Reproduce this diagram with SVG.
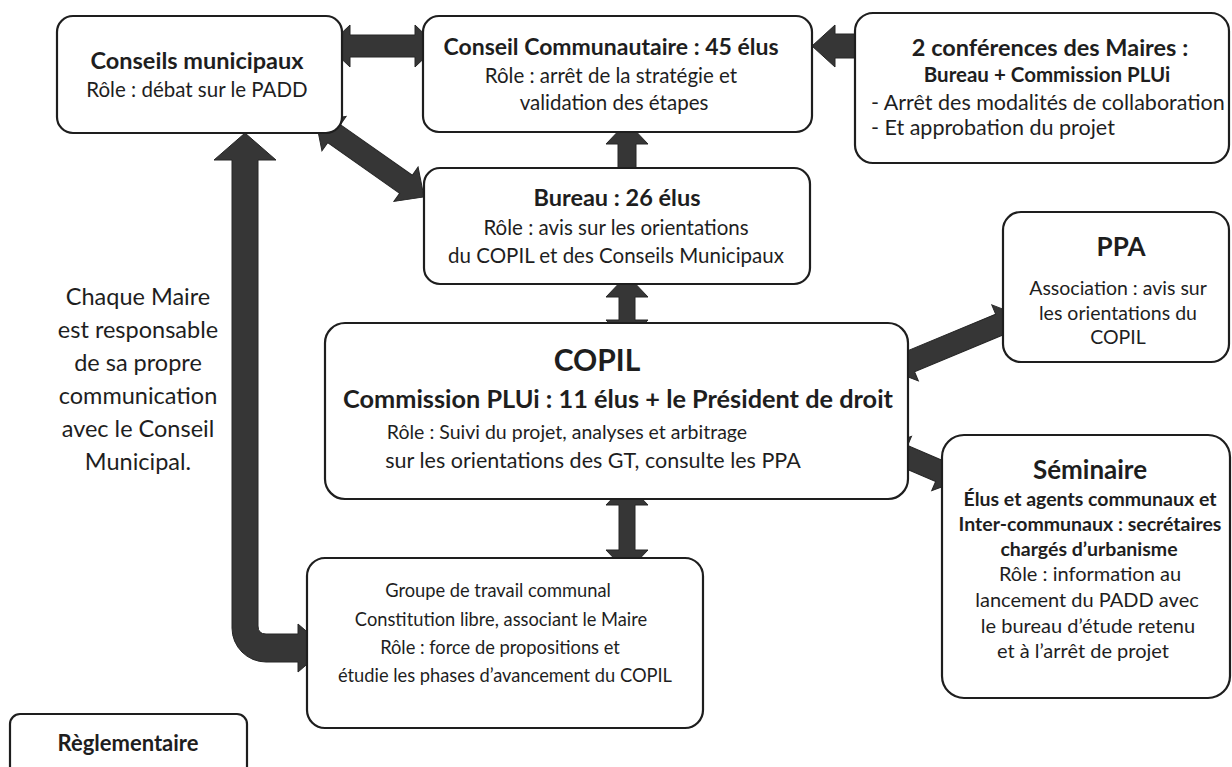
<svg xmlns="http://www.w3.org/2000/svg" width="1232" height="767" viewBox="0 0 1232 767">
<style>
.box{fill:#fff;stroke:#1e1e1e;stroke-width:2.2}
text{font-family:Lato,"Open Sans","Liberation Sans",sans-serif;fill:#1e1e1e;text-anchor:middle}
.t{font-weight:bold;font-size:23.5px}
.b{font-size:20.5px}
.sm{font-size:20px}
.g{font-size:18.3px}
.m{font-size:23.5px}
.arr{fill:#363636;stroke:#262626;stroke-width:1}
</style>
<rect width="1232" height="767" fill="#fff"/>
<g id="connectors">
<path class="arr" transform="translate(328,46)" d="M0,0 L22,-21 L22,-11 L87,-11 L87,-21 L109,0 L87,21 L87,11 L22,11 L22,21 Z"/>
<path class="arr" d="M812,46 L835,25 L835,34 L883,34 L883,58 L835,58 L835,67 Z"/>
<path class="arr" transform="translate(316,121) rotate(35.1)" d="M0,0 L22,-21 L22,-11 L110,-11 L110,-21 L132,0 L110,21 L110,11 L22,11 L22,21 Z"/>
<path class="arr" d="M627,122 L648,144 L636,144 L636,172 L618,172 L618,144 L606,144 Z"/>
<path class="arr" transform="translate(627,275) rotate(90)" d="M0,0 L22,-21 L22,-8 L45,-8 L45,-21 L67,0 L45,21 L45,8 L22,8 L22,21 Z"/>
<path class="arr" transform="translate(627,483) rotate(90)" d="M0,0 L22,-21 L22,-8 L67,-8 L67,-21 L89,0 L67,21 L67,8 L22,8 L22,21 Z"/>
<path class="arr" transform="translate(890,370) rotate(-22.6)" d="M0,0 L22,-21 L22,-11 L119,-11 L119,-21 L141,0 L119,21 L119,11 L22,11 L22,21 Z"/>
<path class="arr" transform="translate(883,447) rotate(23.2)" d="M0,0 L22,-21 L22,-11 L62,-11 L62,-21 L84,0 L62,21 L62,11 L22,11 L22,21 Z"/>
<path class="arr" d="M245,133 L276,160 L258,160 L258,626 Q258,634 266,634 L298,634 L298,624 L326,648 L298,672 L298,662 L266,662 A34,34 0 0 1 232,628 L232,160 L214,160 Z"/>
</g>
<g id="conseils-municipaux">
<rect class="box" x="57" y="16" width="285" height="117" rx="16"/>
<text class="t" x="197" y="69">Conseils municipaux</text>
<text class="b" x="197" y="97">Rôle : débat sur le PADD</text>
</g>
<g id="conseil-communautaire">
<rect class="box" x="423" y="16" width="389" height="116" rx="16"/>
<text class="t" x="611" y="55" style="font-size:23px">Conseil Communautaire : 45 élus</text>
<text class="b" x="611" y="83">Rôle : arrêt de la stratégie et</text>
<text class="b" x="614" y="110">validation des étapes</text>
</g>
<g id="conferences-maires">
<rect class="box" x="855" y="13" width="374" height="150" rx="18"/>
<text class="t" x="1050" y="56">2 conférences des Maires :</text>
<text class="t" x="1047" y="82" style="font-size:20.5px">Bureau + Commission PLUi</text>
<text class="b" x="871" y="110" style="text-anchor:start;font-size:21.5px">- Arrêt des modalités de collaboration</text>
<text class="b" x="871" y="135" style="text-anchor:start;font-size:21.5px">- Et approbation du projet</text>
</g>
<g id="bureau">
<rect class="box" x="424" y="168" width="386" height="116" rx="16"/>
<text class="t" x="617" y="206">Bureau : 26 élus</text>
<text class="b" x="616" y="235">Rôle : avis sur les orientations</text>
<text class="b" x="616" y="263">du COPIL et des Conseils Municipaux</text>
</g>
<g id="ppa">
<rect class="box" x="1003" y="212" width="226" height="150" rx="18"/>
<text class="t" x="1121" y="256" style="font-size:26px">PPA</text>
<text class="b" x="1118" y="295" style="font-size:19.5px">Association : avis sur</text>
<text class="b" x="1118" y="320" style="font-size:19.5px">les orientations du</text>
<text class="b" x="1118" y="344" style="font-size:19.5px">COPIL</text>
</g>
<g id="copil">
<rect class="box" x="325" y="323" width="583" height="176" rx="20"/>
<text class="t" x="597" y="371" style="font-size:30px">COPIL</text>
<text class="t" x="618" y="408" style="font-size:25.3px">Commission PLUi : 11 élus + le Président de droit</text>
<text class="b" x="567" y="439" style="font-size:19.5px">Rôle : Suivi du projet, analyses et arbitrage</text>
<text class="b" x="593" y="468" style="font-size:21.5px">sur les orientations des GT, consulte les PPA</text>
</g>
<g id="seminaire">
<rect class="box" x="942" y="435" width="288" height="263" rx="22"/>
<text class="t" x="1090" y="479" style="font-size:26px">Séminaire</text>
<text class="t" x="1090" y="506" style="font-size:19.5px">Élus et agents communaux et</text>
<text class="t" x="1090" y="531" style="font-size:19.5px">Inter-communaux : secrétaires</text>
<text class="t" x="1089" y="556" style="font-size:19.5px">chargés d’urbanisme</text>
<text class="b sm" x="1090" y="581">Rôle : information au</text>
<text class="b sm" x="1087" y="607">lancement du PADD avec</text>
<text class="b sm" x="1088" y="633">le bureau d’étude retenu</text>
<text class="b sm" x="1083" y="658">et à l’arrêt de projet</text>
</g>
<g id="groupe-travail">
<rect class="box" x="307" y="558" width="396" height="170" rx="18"/>
<text class="b g" x="498" y="597">Groupe de travail communal</text>
<text class="b g" x="501" y="626">Constitution libre, associant le Maire</text>
<text class="b g" x="500" y="654">Rôle : force de propositions et</text>
<text class="b g" x="505" y="682">étudie les phases d’avancement du COPIL</text>
</g>
<g id="maire-note">
<text class="b m" x="138" y="305">Chaque Maire</text>
<text class="b m" x="138" y="338">est responsable</text>
<text class="b m" x="138" y="371">de sa propre</text>
<text class="b m" x="138" y="404">communication</text>
<text class="b m" x="138" y="437">avec le Conseil</text>
<text class="b m" x="138" y="470">Municipal.</text>
</g>
<g id="reglementaire">
<rect class="box" x="10" y="714" width="237" height="70" rx="10"/>
<text class="t" x="128" y="751" style="font-size:22px">Règlementaire</text>
</g>
</svg>
